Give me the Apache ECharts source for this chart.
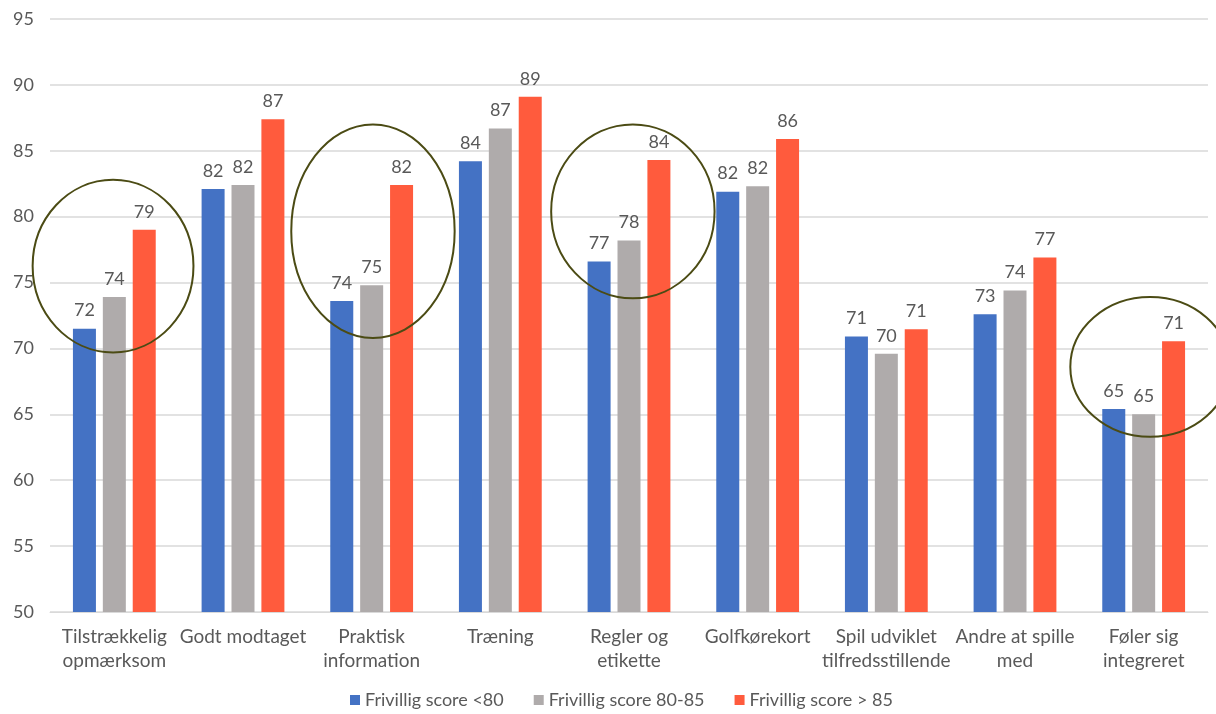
<!DOCTYPE html>
<html>
<head>
<meta charset="utf-8">
<script src="https://cdn.jsdelivr.net/npm/echarts@6/dist/echarts.min.js"></script>
<style>
html,body{margin:0;padding:0;background:#fff;}
#c{width:1216px;height:714px;}
</style>
</head>
<body>
<div id="c"></div>
<script>
const categories = ["Tilstrækkelig\nopmærksom","Godt modtaget","Praktisk\ninformation","Træning","Regler og\netikette","Golfkørekort","Spil udviklet\ntilfredsstillende","Andre at spille\nmed","Føler sig\nintegreret"];
const seriesNames = ["Frivillig score <80","Frivillig score 80-85","Frivillig score > 85"];
const scoreLow  = [71.5, 82.1, 73.6, 84.2, 76.6, 81.9, 70.9, 72.6, 65.4];
const scoreMid  = [73.9, 82.4, 74.8, 86.7, 78.2, 82.3, 69.6, 74.4, 65.0];
const scoreHigh = [79.0, 87.4, 82.4, 89.1, 84.3, 85.9, 71.45, 76.9, 70.55];
const yTicks = {min: 50, max: 95, interval: 5};
// highlighted groups: [category index, centre value, x-radius in category widths, y-radius in value units]
const highlightIdx = [0, 2, 4, 8];
const highlightCenterVal = [76.25, 78.9, 80.4, 68.6];
const highlightRxCat = [0.625, 0.635, 0.635, 0.62];
const highlightRyVal = [6.55, 8.1, 6.6, 5.3];
const highlightDx = [-0.01, 0.01, 0.03, 0.05];

const colors = ["#4472C4","#AFABAB","#FF5B3D"];
const FONT = "Lato";
const chart = echarts.init(document.getElementById('c'));
function mk(name, data, color){
  return {
    name, type:'bar', data, barWidth:23, barGap:'30%',
    itemStyle:{color},
    label:{show:true, position:'top', distance:9, color:'#595959', fontSize:18, fontFamily:FONT,
      formatter:p=>Math.round(p.value)}
  };
}
chart.setOption({
  animation:false,
  textStyle:{fontFamily:FONT},
  grid:{left:50, right:8, top:19, bottom:102, containLabel:false},
  legend:{top:686, left:345, itemWidth:10, itemHeight:10, itemGap:30,
    textStyle:{color:'#595959', fontSize:18, fontFamily:FONT},
    icon:'rect', data:seriesNames},
  xAxis:{type:'category', data:categories,
    axisLine:{lineStyle:{color:'#D9D9D9', width:1}}, axisTick:{show:false},
    axisLabel:{color:'#595959', fontSize:19, fontFamily:FONT, margin:13, lineHeight:24, interval:0}},
  yAxis:{type:'value', min:yTicks.min, max:yTicks.max, interval:yTicks.interval,
    axisLine:{show:false}, axisTick:{show:false},
    splitLine:{lineStyle:{color:'#D9D9D9', width:1.5}},
    axisLabel:{color:'#595959', fontSize:18, fontFamily:FONT, margin:16}},
  series:[mk(seriesNames[0], scoreLow, colors[0]), mk(seriesNames[1], scoreMid, colors[1]), mk(seriesNames[2], scoreHigh, colors[2])]
});
// ellipses placed via the chart's own scales
const p0 = chart.convertToPixel({xAxisIndex:0,yAxisIndex:0},[0,50]);
const p1 = chart.convertToPixel({xAxisIndex:0,yAxisIndex:0},[1,51]);
const catW = p1[0]-p0[0];
const unitH = p0[1]-p1[1];
const graphics = highlightIdx.map((ci,i)=>{
  const c = chart.convertToPixel({xAxisIndex:0,yAxisIndex:0},[ci, highlightCenterVal[i]]);
  return {type:'ellipse', shape:{cx:c[0]+highlightDx[i]*catW, cy:c[1], rx:highlightRxCat[i]*catW, ry:highlightRyVal[i]*unitH},
    style:{fill:null, stroke:'#4B4B14', lineWidth:2}, z:100};
});
chart.setOption({graphic:graphics});
</script>
</body>
</html>
